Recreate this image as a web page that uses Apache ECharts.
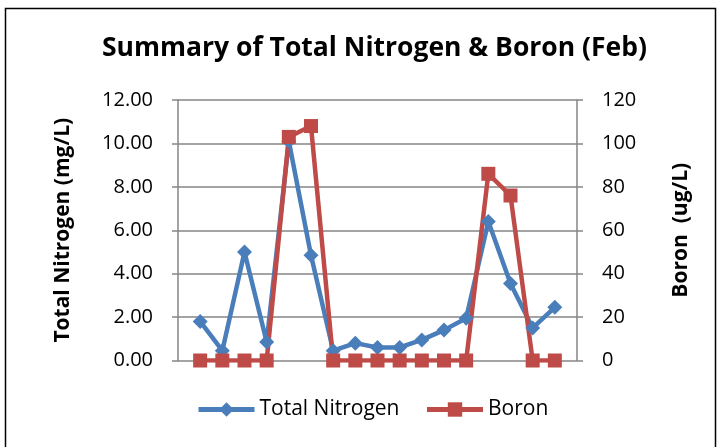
<!DOCTYPE html>
<html>
<head>
<meta charset="utf-8">
<script src="https://cdn.jsdelivr.net/npm/echarts@6/dist/echarts.min.js"></script>
<style>html,body{margin:0;padding:0;background:#fff}#c{width:719px;height:447px}</style>
</head>
<body>
<div id="c"></div>
<script>
var categories = ['', '1', '2', '3', '4', '5', '6', '7', '8', '9', '10', '11', '12', '13', '14', '15', '16', '17', ''];
var totalNitrogen = [null, 1.8, 0.45, 5.0, 0.85, 10.1, 4.85, 0.45, 0.8, 0.6, 0.6, 0.95, 1.4, 1.95, 6.4, 3.55, 1.5, 2.45, null];
var boron = [null, 0, 0, 0, 0, 103, 108, 0, 0, 0, 0, 0, 0, 0, 86, 76, 0, 0, null];
var leftTicks = [0, 2, 4, 6, 8, 10, 12];
var rightTicks = [0, 20, 40, 60, 80, 100, 120];

var FONT = 'Open Sans';
var chart = echarts.init(document.getElementById('c'));
chart.setOption({
  animation: false,
  backgroundColor: '#ffffff',
  textStyle: { fontFamily: FONT },
  graphic: [{
    type: 'rect', shape: { x: 5.5, y: 8.5, width: 710, height: 450 },
    style: { fill: 'none', stroke: '#000', lineWidth: 1.5 }, silent: true
  }],
  title: {
    text: 'Summary of Total Nitrogen & Boron (Feb)',
    left: 97, top: 30,
    textStyle: { fontFamily: FONT, fontWeight: 'bold', fontSize: 26.5, color: '#000' }
  },
  legend: {
    bottom: 22, left: 191, itemGap: 25, itemWidth: 56, itemHeight: 18,
    textStyle: { fontFamily: FONT, fontSize: 21, color: '#000' },
    lineStyle: { width: 5 },
    data: ['Total Nitrogen', 'Boron']
  },
  grid: { left: 178, right: 142, top: 100, bottom: 86.5 },
  xAxis: {
    type: 'category', data: categories, boundaryGap: false,
    axisLine: { show: false }, axisTick: { show: false }, axisLabel: { show: false },
    splitLine: { show: false }
  },
  yAxis: [{
    type: 'value', min: leftTicks[0], max: leftTicks[leftTicks.length - 1], interval: 2,
    name: 'Total Nitrogen (mg/L)', nameLocation: 'middle', nameRotate: 90, nameGap: 104,
    nameTextStyle: { fontFamily: FONT, fontWeight: 'bold', fontSize: 21, color: '#000' },
    axisLine: { show: true, lineStyle: { color: '#868686', width: 1.5 } },
    axisTick: { show: true, length: 6, lineStyle: { color: '#868686', width: 1.5 } },
    axisLabel: { fontFamily: FONT, fontSize: 20, color: '#000', margin: 25,
      formatter: function (v) { return v.toFixed(2); } },
    splitLine: { show: true, lineStyle: { color: '#868686', width: 1.5 } }
  }, {
    type: 'value', min: rightTicks[0], max: rightTicks[rightTicks.length - 1], interval: 20,
    name: 'Boron  (ug/L)', nameLocation: 'middle', nameRotate: 90, nameGap: 94,
    nameTextStyle: { fontFamily: FONT, fontWeight: 'bold', fontSize: 21, color: '#000' },
    axisLine: { show: true, lineStyle: { color: '#868686', width: 1.5 } },
    axisTick: { show: true, length: 6, lineStyle: { color: '#868686', width: 1.5 } },
    axisLabel: { fontFamily: FONT, fontSize: 20, color: '#000', margin: 25 },
    splitLine: { show: false }
  }],
  series: [{
    name: 'Total Nitrogen', type: 'line', yAxisIndex: 0, data: totalNitrogen,
    symbol: 'diamond', symbolSize: 15, showAllSymbol: true,
    itemStyle: { color: '#4A7EBB' },
    lineStyle: { color: '#4A7EBB', width: 4.5 }
  }, {
    name: 'Boron', type: 'line', yAxisIndex: 1, data: boron,
    symbol: 'rect', symbolSize: 14, showAllSymbol: true,
    itemStyle: { color: '#BE4B48' },
    lineStyle: { color: '#BE4B48', width: 4.5 }
  }]
});
</script>
</body>
</html>
